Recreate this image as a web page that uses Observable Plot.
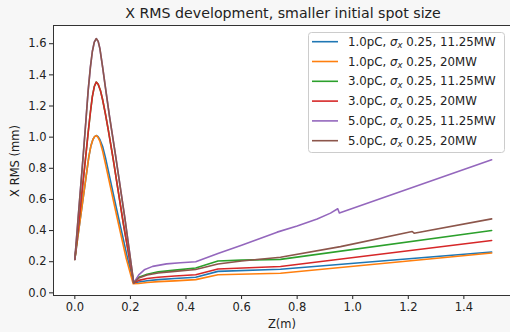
<!DOCTYPE html>
<html><head><meta charset="utf-8">
<script src="https://cdn.jsdelivr.net/npm/d3@7"></script>
<script src="https://cdn.jsdelivr.net/npm/@observablehq/plot@0.6"></script>
<style>
body{margin:0;background:#f7f7f7;}
svg{display:block;}
</style></head><body><div id="chart"></div>
<script>
const charges = ["1.0pC","1.0pC","3.0pC","3.0pC","5.0pC","5.0pC"];
const powers = ["11.25MW","20MW","11.25MW","20MW","11.25MW","20MW"];
const sigmaX = "0.25";
const colors = ["#1f77b4","#ff7f0e","#2ca02c","#d62728","#9467bd","#8c564b"];

const z_1pC_11 = [0,0.01,0.02,0.03,0.04,0.05,0.058,0.065,0.071,0.077,0.083,0.09,0.1,0.11,0.15,0.19,0.212,0.23,0.26,0.3,0.36,0.435,0.515,0.74,1.5];
const v_1pC_11 = [0.215,0.35,0.48,0.61,0.74,0.87,0.945,0.985,1.003,1.01,1.005,0.985,0.94,0.87,0.54,0.22,0.065,0.07,0.078,0.085,0.092,0.1,0.138,0.152,0.262];

const z_1pC_20 = [0,0.01,0.02,0.03,0.04,0.05,0.058,0.065,0.071,0.077,0.083,0.09,0.1,0.11,0.15,0.185,0.21,0.23,0.26,0.3,0.36,0.435,0.515,0.74,1.5];
const v_1pC_20 = [0.215,0.35,0.48,0.61,0.74,0.87,0.945,0.985,1.003,1.01,1.0,0.975,0.91,0.83,0.5,0.22,0.058,0.06,0.066,0.072,0.077,0.085,0.116,0.126,0.256];

const z_3pC_11 = [0,0.01,0.02,0.03,0.04,0.048,0.056,0.063,0.07,0.077,0.084,0.092,0.1,0.11,0.12,0.137,0.175,0.212,0.23,0.26,0.3,0.36,0.435,0.515,0.6,0.74,1.5];
const v_3pC_11 = [0.215,0.38,0.55,0.72,0.89,1.03,1.16,1.26,1.325,1.353,1.34,1.3,1.24,1.15,1.05,0.87,0.44,0.064,0.1,0.12,0.135,0.146,0.16,0.205,0.21,0.215,0.4];

const z_3pC_20 = [0,0.01,0.02,0.03,0.04,0.048,0.056,0.063,0.07,0.077,0.084,0.092,0.1,0.11,0.12,0.137,0.175,0.212,0.23,0.26,0.3,0.36,0.435,0.515,0.74,1.5];
const v_3pC_20 = [0.215,0.38,0.55,0.72,0.89,1.03,1.16,1.26,1.325,1.353,1.34,1.3,1.24,1.15,1.05,0.87,0.44,0.063,0.08,0.092,0.1,0.108,0.116,0.153,0.169,0.336];

const z_5pC_11 = [0,0.01,0.02,0.03,0.04,0.048,0.056,0.063,0.07,0.077,0.084,0.09,0.1,0.11,0.125,0.145,0.18,0.212,0.23,0.25,0.28,0.33,0.38,0.435,0.515,0.6,0.728,0.8,0.872,0.92,0.946,0.952,1.5];
const v_5pC_11 = [0.215,0.44,0.66,0.88,1.11,1.3,1.45,1.55,1.61,1.633,1.615,1.57,1.45,1.32,1.13,0.9,0.48,0.063,0.115,0.148,0.17,0.186,0.193,0.2,0.252,0.305,0.39,0.43,0.475,0.512,0.54,0.513,0.855];

const z_5pC_20 = [0,0.01,0.02,0.03,0.04,0.048,0.056,0.063,0.07,0.077,0.084,0.09,0.1,0.11,0.125,0.145,0.18,0.212,0.23,0.26,0.3,0.36,0.435,0.515,0.6,0.74,0.956,1.214,1.221,1.5];
const v_5pC_20 = [0.215,0.44,0.66,0.88,1.11,1.3,1.45,1.55,1.61,1.633,1.615,1.57,1.45,1.32,1.13,0.9,0.48,0.063,0.095,0.115,0.128,0.138,0.15,0.185,0.205,0.229,0.297,0.394,0.383,0.475];

const xTicks = [0.0,0.2,0.4,0.6,0.8,1.0,1.2,1.4];
const yTicks = [0.0,0.2,0.4,0.6,0.8,1.0,1.2,1.4,1.6];

const seriesZ = [z_1pC_11,z_1pC_20,z_3pC_11,z_3pC_20,z_5pC_11,z_5pC_20];
const seriesV = [v_1pC_11,v_1pC_20,v_3pC_11,v_3pC_20,v_5pC_11,v_5pC_20];
const names = charges.map((c,i)=>`${c}, sigma_x ${sigmaX}, ${powers[i]}`);

const rows = [];
seriesZ.forEach((zs,i)=>zs.forEach((z,j)=>rows.push({series:names[i], z, v:seriesV[i][j]})));

const FONT = "DejaVu Sans";
const plot = Plot.plot({
  width:510, height:332,
  marginLeft:53, marginRight:0, marginTop:25, marginBottom:37,
  style:{background:"transparent", fontFamily:FONT, fontSize:"11.5px", color:"#222"},
  x:{domain:[-0.075,1.575], range:[53.5,512], ticks:xTicks, tickFormat:d3.format(".1f"), tickSize:4, tickPadding:3, label:null},
  y:{domain:[-0.017,1.717], ticks:yTicks, tickFormat:d3.format(".1f"), tickSize:4, tickPadding:3, label:null},
  color:{domain:names, range:colors},
  marks:[
    Plot.frame({fill:"white", stroke:null}),
    Plot.line(rows,{x:"z", y:"v", z:"series", stroke:"series", strokeWidth:1.6}),
    Plot.frame({stroke:"#333", strokeWidth:1})
  ]
});
document.getElementById("chart").appendChild(plot);

const svg = d3.select(plot);
svg.append("text").attr("x",283).attr("y",17.5).attr("text-anchor","middle")
  .attr("font-family",FONT).attr("font-size","14.2px").attr("fill","#222")
  .text("X RMS development, smaller initial spot size");
svg.append("text").attr("x",282).attr("y",328).attr("text-anchor","middle")
  .attr("font-family",FONT).attr("font-size","11.5px").attr("fill","#222").text("Z(m)");
svg.append("text").attr("transform","translate(18.5,161) rotate(-90)").attr("text-anchor","middle")
  .attr("font-family",FONT).attr("font-size","11.5px").attr("fill","#222").text("X RMS (mm)");

const lg = svg.append("g").attr("font-family",FONT).attr("font-size","11.8px").attr("fill","#222").attr("text-anchor","start");
lg.append("rect").attr("x",308.5).attr("y",32.5).attr("width",196).attr("height",120).attr("rx",3)
  .attr("fill","white").attr("fill-opacity",0.8).attr("stroke","#cccccc");
names.forEach((n,i)=>{
  const y = 41.7 + i*19.8;
  lg.append("line").attr("x1",312).attr("x2",338).attr("y1",y).attr("y2",y)
    .attr("stroke",colors[i]).attr("stroke-width",1.6);
  const t = lg.append("text").attr("x",348).attr("y",y).attr("dy","0.35em").attr("text-anchor","start");
  t.append("tspan").text(charges[i]+", ");
  t.append("tspan").attr("font-style","italic").text("σ");
  t.append("tspan").attr("font-style","italic").attr("font-size","8.5px").attr("dy",2.5).text("x");
  t.append("tspan").attr("dy",-2.5).text(" "+sigmaX+", "+powers[i]);
});
</script></body></html>
